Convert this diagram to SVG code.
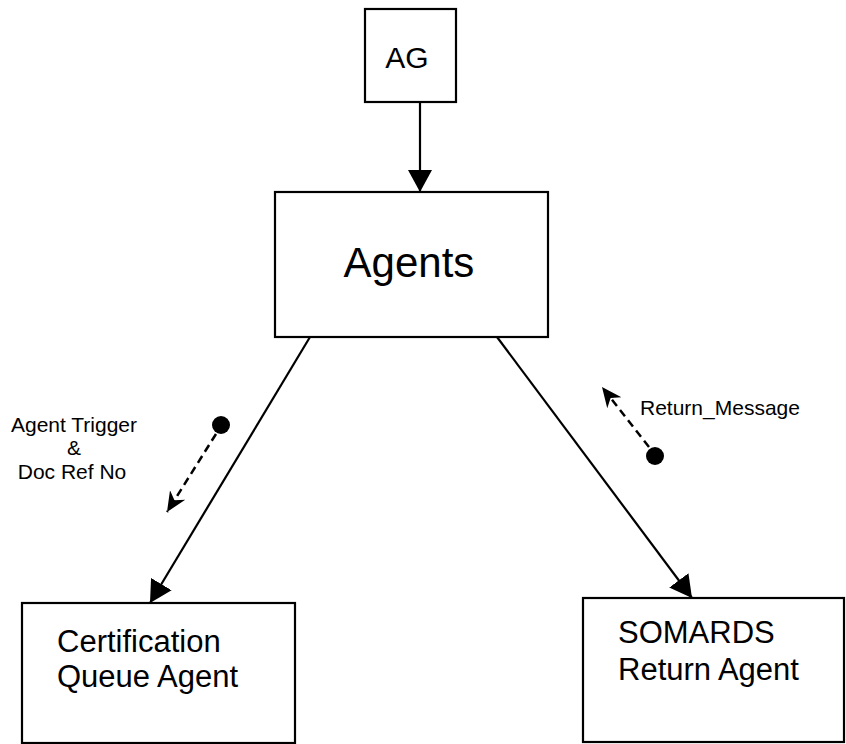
<svg xmlns="http://www.w3.org/2000/svg" width="846" height="744" viewBox="0 0 846 744">
<style>
.box{fill:#fff;stroke:#000;stroke-width:2.2}
.t{font-family:"Liberation Sans",Arial,sans-serif;fill:#000}
.line{stroke:#000;stroke-width:2.2;fill:none}
.dash{stroke:#000;stroke-width:2.5;fill:none;stroke-dasharray:8 5}
</style>
<defs>
<marker id="ah" markerUnits="userSpaceOnUse" markerWidth="24" markerHeight="24" refX="22" refY="12" orient="auto">
<path d="M0,0 L22,12 L0,24 z" fill="#000"/>
</marker>
<marker id="ahd" markerUnits="userSpaceOnUse" markerWidth="22" markerHeight="22" refX="20" refY="10" orient="auto">
<path d="M0,1 L20,10 L0,19 L6,10 z" fill="#000"/>
</marker>
</defs>
<rect width="846" height="744" fill="#fff"/>
<g id="connectors">
<line class="line" x1="420" y1="102" x2="420" y2="192" marker-end="url(#ah)"/>
<line class="line" x1="310" y1="337" x2="150" y2="603" marker-end="url(#ah)"/>
<line class="line" x1="497" y1="337" x2="692" y2="598" marker-end="url(#ah)"/>
<g id="msg-trigger">
<circle cx="221" cy="425" r="9" fill="#000"/>
<line class="dash" x1="216" y1="434" x2="167" y2="512" marker-end="url(#ahd)"/>
<text class="t" font-size="21" text-anchor="middle" x="74" y="432">Agent Trigger</text>
<text class="t" font-size="21" text-anchor="middle" x="74" y="455">&amp;</text>
<text class="t" font-size="21" text-anchor="middle" x="72" y="479">Doc Ref No</text>
</g>
<g id="msg-return">
<circle cx="655" cy="456" r="9" fill="#000"/>
<line class="dash" x1="649" y1="447" x2="602" y2="387" marker-end="url(#ahd)"/>
<text class="t" font-size="21" x="640" y="415">Return_Message</text>
</g>
</g>
<g id="node-ag">
<rect class="box" x="365" y="9" width="91" height="93"/>
<text class="t" font-size="30" text-anchor="middle" x="407" y="68">AG</text>
</g>
<g id="node-agents">
<rect class="box" x="275" y="192" width="273" height="145"/>
<text class="t" font-size="42" text-anchor="middle" x="409" y="277">Agents</text>
</g>
<g id="node-cert">
<rect class="box" x="22" y="603" width="273" height="140"/>
<text class="t" font-size="31" x="57" y="652">Certification</text>
<text class="t" font-size="31" x="57" y="687">Queue Agent</text>
</g>
<g id="node-somards">
<rect class="box" x="583" y="598" width="261" height="144"/>
<text class="t" font-size="31" x="618" y="643">SOMARDS</text>
<text class="t" font-size="31" x="618" y="680">Return Agent</text>
</g>
</svg>
